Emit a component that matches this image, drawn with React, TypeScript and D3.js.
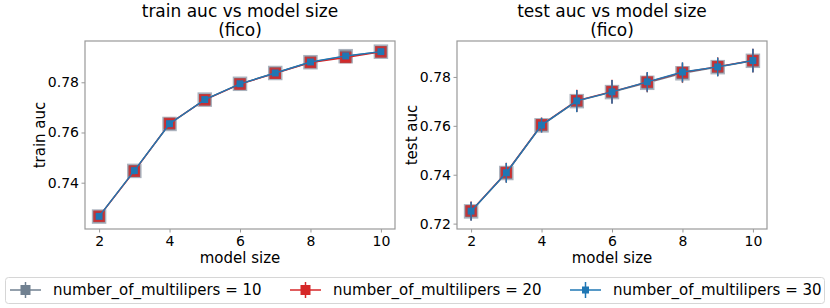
import React, { useEffect, useRef } from "react";
import * as d3 from "d3";

// model sizes on the x axis
const sizes = [2, 3, 4, 5, 6, 7, 8, 9, 10];
const xTicks = [2, 4, 6, 8, 10];

// train auc per number_of_multilipers
const train10 = [0.7265, 0.7447, 0.7634, 0.7731, 0.7794, 0.7837, 0.788, 0.7904, 0.7922];
const train20 = [0.7266, 0.7446, 0.7636, 0.773, 0.7793, 0.7836, 0.7879, 0.7899, 0.7921];
const train30 = [0.7266, 0.7448, 0.7635, 0.7731, 0.7794, 0.7837, 0.7881, 0.7905, 0.7922];
const trainErr = [0.0004, 0.0015, 0.0008, 0.0006, 0.0006, 0.0005, 0.0005, 0.0006, 0.0005];
const trainYTicks = [0.74, 0.76, 0.78];

// test auc per number_of_multilipers
const test10 = [0.725, 0.7407, 0.7602, 0.7701, 0.7738, 0.7776, 0.7815, 0.784, 0.7866];
const test20 = [0.7252, 0.7409, 0.7604, 0.7703, 0.774, 0.7779, 0.7818, 0.7842, 0.7867];
const test30 = [0.7251, 0.7408, 0.7603, 0.7702, 0.7739, 0.778, 0.782, 0.7841, 0.7867];
const testErr = [0.0038, 0.004, 0.003, 0.0045, 0.0048, 0.004, 0.004, 0.0038, 0.0048];
const testYTicks = [0.72, 0.74, 0.76, 0.78];

const legendLabels = [
  "number_of_multilipers = 10",
  "number_of_multilipers = 20",
  "number_of_multilipers = 30",
];

const FONT = "DejaVu Sans, sans-serif";

const App = () => {
  const svgRef = useRef<SVGSVGElement>(null);

  useEffect(() => {
    const svg = d3.select(svgRef.current);
    svg.selectAll("*").remove();

    // series styles: gray big squares under, red, then blue on top
    const styles = [
      { color: "#708090", size: 13, edge: "#aab2bd" },
      { color: "#d62728", size: 10, edge: "#c0393b" },
      { color: "#1f77b4", size: 7, edge: "#1f77b4" },
    ];

    const panels = [
      {
        title: "train auc vs model size",
        ylabel: "train auc",
        left: 85,
        yDomain: [0.72155, 0.79645],
        yTicks: trainYTicks,
        series: [train10, train20, train30],
        err: trainErr,
        labelX: 45,
      },
      {
        title: "test auc vs model size",
        ylabel: "test auc",
        left: 457,
        yDomain: [0.7178, 0.7947],
        yTicks: testYTicks,
        series: [test10, test20, test30],
        err: testErr,
        labelX: 417,
      },
    ];

    const top = 41;
    const bottom = 229;
    const w = 310;

    panels.forEach((p) => {
      const x = d3.scaleLinear().domain([1.6, 10.4]).range([p.left, p.left + w]);
      const y = d3.scaleLinear().domain(p.yDomain).range([bottom, top]);

      // titles
      const cx = p.left + w / 2;
      svg.append("text").attr("x", cx).attr("y", 17).attr("text-anchor", "middle")
        .attr("font-family", FONT).attr("font-size", 17).text(p.title);
      svg.append("text").attr("x", cx).attr("y", 36).attr("text-anchor", "middle")
        .attr("font-family", FONT).attr("font-size", 17).text("(fico)");

      // axes
      const xa = svg.append("g")
        .attr("transform", `translate(0,${bottom})`)
        .call(d3.axisBottom(x).tickValues(xTicks).tickFormat(d3.format("d")).tickSize(3.5).tickPadding(4).tickSizeOuter(0));
      const ya = svg.append("g")
        .attr("transform", `translate(${p.left},0)`)
        .call(d3.axisLeft(y).tickValues(p.yTicks).tickFormat(d3.format(".2f")).tickSize(3.5).tickPadding(2.5).tickSizeOuter(0));
      [xa, ya].forEach((a) => {
        a.attr("font-family", FONT).attr("font-size", 14);
        a.select(".domain").remove();
        a.selectAll("line").attr("stroke", "#999");
        a.selectAll("text").attr("fill", "#000");
      });

      // axis labels
      svg.append("text").attr("x", cx).attr("y", 263).attr("text-anchor", "middle")
        .attr("font-family", FONT).attr("font-size", 15).text("model size");
      svg.append("text")
        .attr("transform", `translate(${p.labelX},${(top + bottom) / 2}) rotate(-90)`)
        .attr("text-anchor", "middle").attr("font-family", FONT).attr("font-size", 15).text(p.ylabel);

      // frame
      svg.append("rect").attr("x", p.left).attr("y", top).attr("width", w).attr("height", bottom - top)
        .attr("fill", "none").attr("stroke", "#999").attr("stroke-width", 1.2);

      const line = d3.line<number>().x((_, i) => x(sizes[i])).y((d) => y(d));

      p.series.forEach((vals, si) => {
        const s = styles[si];
        const g = svg.append("g");
        g.append("path").datum(vals).attr("d", line).attr("fill", "none")
          .attr("stroke", s.color).attr("stroke-width", 1.4);
        g.selectAll(".err").data(vals).enter().append("line")
          .attr("x1", (_, i) => x(sizes[i])).attr("x2", (_, i) => x(sizes[i]))
          .attr("y1", (d, i) => y(d - p.err[i])).attr("y2", (d, i) => y(d + p.err[i]))
          .attr("stroke", s.color).attr("stroke-width", 1.4);
        g.selectAll(".mk").data(vals).enter().append("rect")
          .attr("x", (_, i) => x(sizes[i]) - s.size / 2)
          .attr("y", (d) => y(d) - s.size / 2)
          .attr("width", s.size).attr("height", s.size)
          .attr("fill", s.color).attr("stroke", s.edge).attr("stroke-width", si === 2 ? 0 : 1.5);
      });
    });

    // legend
    const lg = svg.append("g");
    lg.append("rect").attr("x", 5.5).attr("y", 277.5).attr("width", 819).attr("height", 26)
      .attr("rx", 3).attr("fill", "#fff").attr("stroke", "#d6d6d6");
    const itemX = [10, 290, 570];
    const ly = 290;
    legendLabels.forEach((lab, i) => {
      const s = styles[i];
      const hx = itemX[i];
      lg.append("line").attr("x1", hx).attr("x2", hx + 31).attr("y1", ly).attr("y2", ly)
        .attr("stroke", s.color).attr("stroke-width", 1.5);
      lg.append("line").attr("x1", hx + 15.5).attr("x2", hx + 15.5).attr("y1", ly - 8).attr("y2", ly + 8)
        .attr("stroke", s.color).attr("stroke-width", 1.5);
      const ms = i === 2 ? 7 : 10;
      lg.append("rect").attr("x", hx + 15.5 - ms / 2).attr("y", ly - ms / 2).attr("width", ms).attr("height", ms)
        .attr("fill", s.color);
      lg.append("text").attr("x", hx + 43).attr("y", ly + 5).attr("font-family", FONT).attr("font-size", 15)
        .text(lab);
    });
  }, []);

  return <svg ref={svgRef} width={830} height={308} style={{ position: "absolute", left: 0, top: 0 }}></svg>;
};

export default App;
